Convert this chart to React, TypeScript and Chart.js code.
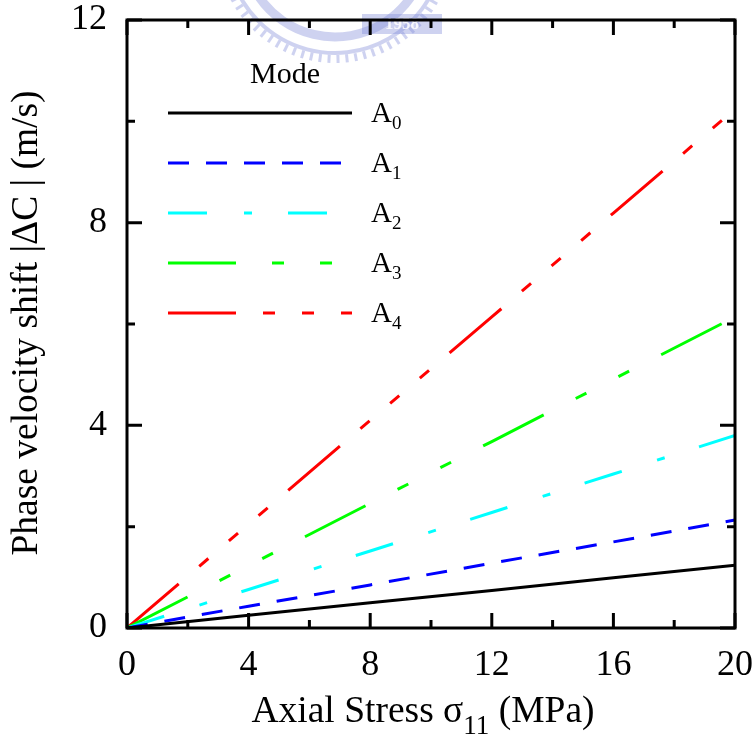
import { useEffect, useRef } from "react";
import { Chart, registerables } from "chart.js";

Chart.register(...registerables);

// Axial stress σ11 (MPa)
const stress = [0, 4, 8, 12, 16, 20];

// Phase velocity shift |ΔC| (m/s) of the antisymmetric modes
const modeA0 = [0, 0.25, 0.5, 0.74, 0.99, 1.24];
const modeA1 = [0, 0.43, 0.85, 1.28, 1.7, 2.13];
const modeA2 = [0, 0.76, 1.52, 2.28, 3.04, 3.8];
const modeA3 = [0, 1.23, 2.46, 3.68, 4.91, 6.14];
const modeA4 = [0, 2.05, 4.1, 6.14, 8.19, 10.24];

const modeOrders = ["0", "1", "2", "3", "4"];
const modeColors = ["#000000", "#0000ff", "#00ffff", "#00ff00", "#ff0000"];
const modeDashes = [
  [],
  [21, 17],
  [39, 37, 8, 36],
  [68, 36, 12, 36, 12, 36],
  [68, 27, 12, 27, 12, 27, 12, 27],
];

const xMajorTicks = [0, 4, 8, 12, 16, 20];
const xMinorTicks = [2, 6, 10, 14, 18];
const yMajorTicks = [0, 4, 8, 12];
const yMinorTicks = [2, 6, 10];

const SERIF = "'Liberation Serif', 'Times New Roman', serif";

function drawWatermark(ctx: CanvasRenderingContext2D) {
  ctx.save();
  const cx = 335;
  const cy = -55;
  ctx.strokeStyle = "rgba(125,138,215,0.38)";
  ctx.fillStyle = "rgba(125,138,215,0.38)";
  // toothed outer rim
  ctx.lineWidth = 3;
  for (let deg = 12; deg <= 168; deg += 4.5) {
    const t = (deg * Math.PI) / 180;
    ctx.beginPath();
    ctx.moveTo(cx + Math.cos(t) * 110, cy + Math.sin(t) * 110);
    ctx.lineTo(cx + Math.cos(t) * 118, cy + Math.sin(t) * 118);
    ctx.stroke();
  }
  ctx.lineWidth = 4;
  ctx.beginPath();
  ctx.arc(cx, cy, 108, (15 * Math.PI) / 180, (165 * Math.PI) / 180);
  ctx.stroke();
  // inner band
  ctx.lineWidth = 9;
  ctx.beginPath();
  ctx.arc(cx, cy, 92, (35 * Math.PI) / 180, (150 * Math.PI) / 180);
  ctx.stroke();
  // year plate
  ctx.fillRect(362, 14, 80, 20);
  ctx.fillStyle = "rgba(255,255,255,0.85)";
  ctx.font = `bold 17px ${SERIF}`;
  ctx.textAlign = "center";
  ctx.textBaseline = "middle";
  ctx.fillText("1958", 402, 25);
  ctx.restore();
}

function drawSubscripted(
  ctx: CanvasRenderingContext2D,
  parts: { text: string; sub: boolean }[],
  x: number,
  y: number,
  size: number,
  subSize: number,
  subDrop: number,
  align: "left" | "center"
) {
  const widths = parts.map((p) => {
    ctx.font = `${p.sub ? subSize : size}px ${SERIF}`;
    return ctx.measureText(p.text).width;
  });
  const total = widths.reduce((s, w) => s + w, 0);
  let cx = align === "center" ? x - total / 2 : x;
  ctx.textAlign = "left";
  ctx.textBaseline = "alphabetic";
  parts.forEach((p, i) => {
    ctx.font = `${p.sub ? subSize : size}px ${SERIF}`;
    ctx.fillText(p.text, cx, p.sub ? y + subDrop : y);
    cx += widths[i];
  });
}

const decorPlugin = {
  id: "decor",
  beforeDraw(chart: any) {
    const ctx = chart.ctx as CanvasRenderingContext2D;
    ctx.save();
    ctx.fillStyle = "#ffffff";
    ctx.fillRect(0, 0, chart.width, chart.height);
    ctx.restore();
    drawWatermark(ctx);
  },
  afterDraw(chart: any) {
    const ctx = chart.ctx as CanvasRenderingContext2D;
    const a = chart.chartArea;
    const xs = chart.scales.x;
    const ys = chart.scales.y;
    ctx.save();
    ctx.strokeStyle = "#000";
    ctx.fillStyle = "#000";
    ctx.lineWidth = 3;
    ctx.lineCap = "butt";
    ctx.lineJoin = "miter";
    ctx.setLineDash([]);

    const xTick = (v: number, len: number) => {
      const px = xs.getPixelForValue(v);
      ctx.beginPath();
      ctx.moveTo(px, a.bottom);
      ctx.lineTo(px, a.bottom - len);
      ctx.moveTo(px, a.top);
      ctx.lineTo(px, a.top + len);
      ctx.stroke();
    };
    const yTick = (v: number, len: number) => {
      const py = ys.getPixelForValue(v);
      ctx.beginPath();
      ctx.moveTo(a.left, py);
      ctx.lineTo(a.left + len, py);
      ctx.moveTo(a.right, py);
      ctx.lineTo(a.right - len, py);
      ctx.stroke();
    };
    xMajorTicks.forEach((v) => xTick(v, 15));
    xMinorTicks.forEach((v) => xTick(v, 8));
    yMajorTicks.forEach((v) => yTick(v, 15));
    yMinorTicks.forEach((v) => yTick(v, 8));
    ctx.strokeRect(a.left, a.top, a.right - a.left, a.bottom - a.top);

    // legend
    ctx.font = `30px ${SERIF}`;
    ctx.textAlign = "center";
    ctx.textBaseline = "alphabetic";
    ctx.fillText("Mode", 285, 83);
    chart.data.datasets.forEach((ds: any, i: number) => {
      const ly = 113 + 50 * i;
      ctx.save();
      ctx.strokeStyle = ds.borderColor;
      ctx.lineWidth = 3;
      ctx.setLineDash(ds.borderDash || []);
      ctx.beginPath();
      ctx.moveTo(168, ly);
      ctx.lineTo(352, ly);
      ctx.stroke();
      ctx.restore();
      drawSubscripted(
        ctx,
        [
          { text: "A", sub: false },
          { text: modeOrders[i], sub: true },
        ],
        371,
        ly + 9,
        29,
        19,
        7,
        "left"
      );
    });

    // axis titles
    drawSubscripted(
      ctx,
      [
        { text: "Axial Stress σ", sub: false },
        { text: "11", sub: true },
        { text: " (MPa)", sub: false },
      ],
      423,
      722,
      37.5,
      27,
      12,
      "center"
    );
    ctx.save();
    ctx.translate(37, 323);
    ctx.rotate(-Math.PI / 2);
    ctx.font = `37.5px ${SERIF}`;
    ctx.textAlign = "center";
    ctx.textBaseline = "alphabetic";
    ctx.fillText("Phase velocity shift |ΔC | (m/s)", 0, 0);
    ctx.restore();
    ctx.restore();
  },
};

// drop the label-overflow padding so the plot frame sits exactly inside layout.padding
const noOverflow = (s: any) => {
  s.paddingTop = 0;
  s.paddingBottom = 0;
  s.paddingLeft = 0;
  s.paddingRight = 0;
};

export default function App() {
  const canvasRef = useRef<HTMLCanvasElement | null>(null);

  useEffect(() => {
    const canvas = canvasRef.current;
    if (!canvas) return;
    const series = [modeA0, modeA1, modeA2, modeA3, modeA4];
    const chart = new Chart(canvas, {
      type: "line",
      data: {
        datasets: series.map((vals, i) => ({
          label: "A" + modeOrders[i],
          data: stress.map((x, j) => ({ x, y: vals[j] })),
          borderColor: modeColors[i],
          borderWidth: 3,
          borderDash: modeDashes[i],
          borderCapStyle: "butt" as const,
          pointRadius: 0,
          tension: 0,
          fill: false,
        })),
      },
      options: {
        responsive: false,
        animation: false,
        devicePixelRatio: 1,
        layout: { padding: { top: 20, right: 19, left: 0, bottom: 0 } },
        plugins: {
          legend: { display: false },
          tooltip: { enabled: false },
          title: { display: false },
        },
        scales: {
          x: {
            type: "linear",
            min: 0,
            max: 20,
            afterBuildTicks: (s: any) => {
              s.ticks = xMajorTicks.map((v) => ({ value: v }));
            },
            afterFit: (s: any) => {
              s.height = 110;
              noOverflow(s);
            },
            ticks: {
              color: "#000",
              padding: 16,
              maxRotation: 0,
              font: { family: SERIF, size: 36 },
            },
            grid: { display: false, drawTicks: false },
            border: { display: false },
          },
          y: {
            type: "linear",
            min: 0,
            max: 12,
            afterBuildTicks: (s: any) => {
              s.ticks = yMajorTicks.map((v) => ({ value: v }));
            },
            afterFit: (s: any) => {
              s.width = 127;
              noOverflow(s);
            },
            ticks: {
              color: "#000",
              padding: 20,
              font: { family: SERIF, size: 36 },
            },
            grid: { display: false, drawTicks: false },
            border: { display: false },
          },
        },
      },
      plugins: [decorPlugin],
    });
    return () => chart.destroy();
  }, []);

  return (
    <div style={{ position: "fixed", left: 0, top: 0, width: 754, height: 738 }}>
      <canvas ref={canvasRef} width={754} height={738} style={{ display: "block" }} />
    </div>
  );
}
